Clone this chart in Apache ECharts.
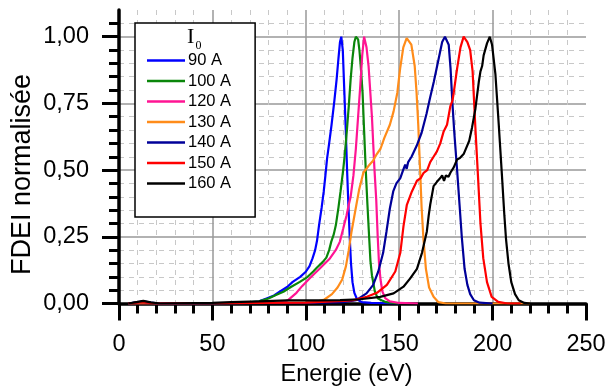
<!DOCTYPE html>
<html><head><meta charset="utf-8">
<script src="https://cdn.jsdelivr.net/npm/echarts@6/dist/echarts.min.js"></script>
<style>html,body{margin:0;padding:0;background:#fff}#c{width:609px;height:388px}</style>
</head><body><div id="c"></div>
<script>
// ---- data (energie eV, FDEI normalisée) ----
const seriesNames = ['90 A','100 A','120 A','130 A','140 A','150 A','160 A'];
const seriesColors = ['#0000ff','#0a860a','#ff1493','#ff8c1a','#000099','#ff0000','#000000'];
const xTicks = [0,50,100,150,200,250];
const yTicks = [0,0.25,0.5,0.75,1.0];

const s90 = [[5,0],[10,0.005],[13,0.008],[17,0.003],[22,0],[60,0.002],[70,0.004],[75,0.008],[79,0.019],[83,0.03],[86,0.044],[90,0.062],[93,0.081],[97,0.1],[100,0.119],[102,0.14],[103.6,0.169],[105,0.2],[106,0.235],[107.1,0.294],[108.5,0.36],[109.6,0.42],[110.5,0.48],[111.4,0.544],[112.5,0.6],[113.8,0.67],[115.3,0.76],[116.5,0.84],[117.5,0.92],[118.3,0.98],[119,1.0],[119.8,0.95],[120.6,0.8],[121.4,0.65],[122.1,0.5],[122.8,0.37],[123.5,0.25],[124.2,0.15],[125,0.08],[126,0.04],[127.5,0.015],[130,0.005],[135,0.002],[150,0]];
const s100 = [[5,0],[12,0.006],[20,0],[60,0.002],[70,0.005],[75,0.008],[80,0.019],[84,0.032],[88,0.044],[92,0.062],[96.8,0.081],[101,0.1],[104,0.12],[106,0.135],[109,0.155],[111,0.172],[112.5,0.2],[113.6,0.231],[115,0.26],[116.1,0.294],[117.5,0.36],[118.6,0.42],[120,0.5],[120.9,0.56],[122,0.65],[123,0.74],[124,0.84],[125,0.92],[126,0.98],[126.8,1.0],[128,0.99],[128.7,0.95],[129.3,0.9],[130.4,0.79],[131.2,0.65],[132.1,0.5],[133,0.37],[133.9,0.25],[134.6,0.16],[135.4,0.106],[137,0.044],[138.5,0.02],[140.5,0.0125],[143,0.005],[150,0]];
const s120 = [[5,0],[60,0.001],[85,0.003],[88,0.006],[90.5,0.0125],[95,0.04],[98,0.065],[102,0.094],[107.5,0.131],[112.9,0.169],[116,0.2],[118.2,0.231],[120,0.28],[121.8,0.33],[123,0.37],[124,0.4],[125.5,0.48],[126.8,0.58],[128,0.7],[129.2,0.82],[130.2,0.93],[131.2,1.0],[132.5,0.96],[133.6,0.89],[135.4,0.7],[136.7,0.51],[137.7,0.39],[138.5,0.25],[139.2,0.15],[140,0.09],[141,0.045],[142.5,0.02],[145,0.008],[150,0.002],[160,0]];
const s130 = [[5,0],[60,0.001],[100,0.003],[105,0.005],[110,0.015],[114,0.035],[117,0.06],[119.5,0.09],[121.5,0.14],[123,0.2],[124.5,0.27],[126.3,0.34],[128.5,0.425],[130.8,0.49],[133.5,0.515],[136,0.535],[138,0.56],[140,0.58],[142,0.62],[145,0.67],[147,0.72],[149,0.79],[150.5,0.88],[152.2,0.96],[154,0.995],[155,1.0],[156.5,0.97],[158.3,0.89],[159.3,0.79],[160.2,0.67],[161.2,0.5],[162,0.36],[163,0.24],[164.3,0.13],[166,0.06],[168.4,0.025],[171,0.005],[175,0],[220,0]];
const s140 = [[5,0],[12,0.006],[20,0],[100,0.002],[120,0.005],[127,0.0125],[132.5,0.038],[136,0.069],[138.8,0.12],[141.4,0.19],[143.2,0.27],[145,0.356],[146.8,0.42],[148.5,0.45],[150.6,0.47],[152.1,0.5],[153.2,0.52],[154,0.505],[154.8,0.53],[156.6,0.55],[159.3,0.59],[162,0.64],[164.6,0.71],[166.5,0.77],[168.5,0.83],[170,0.88],[171.8,0.94],[173,0.98],[174.5,1.0],[175.5,0.995],[176.5,0.97],[177.5,0.88],[178.5,0.75],[179.5,0.64],[181,0.5],[182.3,0.37],[183.5,0.25],[185,0.13],[186.5,0.07],[188,0.035],[190,0.012],[193,0.003],[200,0]];
const s150 = [[5,0],[12,0.005],[20,0],[100,0.003],[120,0.01],[125.6,0.0125],[132.7,0.025],[138.1,0.04],[143.4,0.07],[147.9,0.12],[150.6,0.19],[152.3,0.29],[154.1,0.37],[156.8,0.42],[159.5,0.46],[161.5,0.47],[163.1,0.49],[165,0.5],[166.6,0.53],[168.4,0.55],[170.2,0.57],[172,0.6],[173.8,0.645],[175.6,0.67],[177.4,0.74],[178.5,0.76],[179.2,0.79],[181,0.88],[182.8,0.96],[184.5,1.0],[186.5,0.98],[188,0.95],[189.3,0.87],[190.7,0.67],[192,0.5],[193.5,0.3],[195,0.17],[197,0.08],[199.5,0.025],[203,0.006],[208,0],[215,0]];
const s160 = [[5,0],[10,0.006],[13,0.01],[17,0.004],[22,0],[50,0.002],[60,0.005],[75,0.008],[90,0.012],[105,0.012],[118.4,0.0125],[129.1,0.016],[139.8,0.025],[147,0.038],[152.3,0.063],[155.9,0.094],[159.5,0.13],[162.2,0.19],[164.8,0.27],[165.8,0.33],[166.6,0.37],[168.4,0.44],[170.2,0.456],[172,0.47],[173,0.48],[174,0.46],[175,0.48],[176.4,0.475],[177.4,0.49],[179.2,0.51],[181,0.54],[182.5,0.545],[184.5,0.56],[186.3,0.59],[187.5,0.61],[189,0.66],[190.8,0.73],[192.6,0.83],[193.5,0.87],[194.4,0.89],[195.2,0.93],[197,0.975],[198.5,1.0],[199.7,0.97],[201.5,0.86],[203.3,0.67],[205,0.48],[206.3,0.33],[207.2,0.24],[208.5,0.15],[210,0.08],[212,0.035],[214,0.012],[217,0.002],[220,0]];
const seriesData = [s90,s100,s120,s130,s140,s150,s160];

const F = '"Liberation Sans", Arial, sans-serif';
const chart = echarts.init(document.getElementById('c'), null, {renderer:'canvas'});
const fmt = v => v.toFixed(2).replace('.', ',');

chart.setOption({
  animation: false,
  backgroundColor: '#fff',
  grid: {left:119, right:23, top:10, bottom:84.5, outerBoundsMode:'none'},
  xAxis: {
    type:'value', min:0, max:250, interval:50,
    axisLine:{onZero:false, lineStyle:{color:'#000', width:3.5}},
    axisTick:{length:17, lineStyle:{color:'#000', width:3}},
    minorTick:{show:true, splitNumber:5, length:10, lineStyle:{color:'#000', width:3}},
    axisLabel:{margin:29, fontSize:23.5, fontFamily:F, color:'#000', customValues:xTicks},
    splitLine:{show:true, showMinLine:false, showMaxLine:false, lineStyle:{color:'#999', width:1.5}},
    minorSplitLine:{show:true, lineStyle:{color:'#c8c8c8', width:1, type:[5,5]}}
  },
  yAxis: {
    type:'value', min:0, max:1.1, interval:0.25,
    axisLine:{onZero:false, lineStyle:{color:'#000', width:3.5}},
    axisTick:{length:17, lineStyle:{color:'#000', width:3}, customValues:yTicks},
    minorTick:{show:true, splitNumber:5, length:10, lineStyle:{color:'#000', width:3}},
    axisLabel:{margin:30, fontSize:23.5, fontFamily:F, color:'#000', customValues:yTicks, formatter:fmt},
    splitLine:{show:true, showMinLine:false, lineStyle:{color:'#999', width:1.5}},
    minorSplitLine:{show:true, lineStyle:{color:'#c8c8c8', width:1, type:[5,5]}}
  },
  legend: {
    orient:'vertical', left:135, top:23, padding:[29,24,25,12],
    icon:'rect', itemWidth:38, itemHeight:2.5, itemGap:3.5,
    backgroundColor:'#fff', borderColor:'#000', borderWidth:1.5, borderRadius:0,
    textStyle:{fontFamily:F, fontSize:16.5, color:'#000', lineHeight:16, padding:[0,0,0,-2]},
    data: seriesNames
  },
  graphic: [
    {type:'text', z:100, x:187, y:26, style:{text:'I', font:'22px "Liberation Serif", "Times New Roman", serif', fill:'#000'}},
    {type:'text', z:100, x:195.5, y:40, style:{text:'0', font:'12px "Liberation Serif", "Times New Roman", serif', fill:'#000'}},
    {type:'text', z:100, x:22.5, y:174.5, rotation:Math.PI/2, style:{text:'FDEI normalisée', font:'27px ' + F, fill:'#000', align:'center', verticalAlign:'middle'}},
    {type:'text', z:100, x:346.5, y:375, style:{text:'Energie (eV)', font:'23.5px ' + F, fill:'#000', align:'center', verticalAlign:'middle'}}
  ],
  series: seriesNames.map((n,i) => ({
    name:n, type:'line', data:seriesData[i], symbol:'none', smooth:false,
    lineStyle:{color:seriesColors[i], width:2.2}, itemStyle:{color:seriesColors[i]}
  }))
});
</script></body></html>
